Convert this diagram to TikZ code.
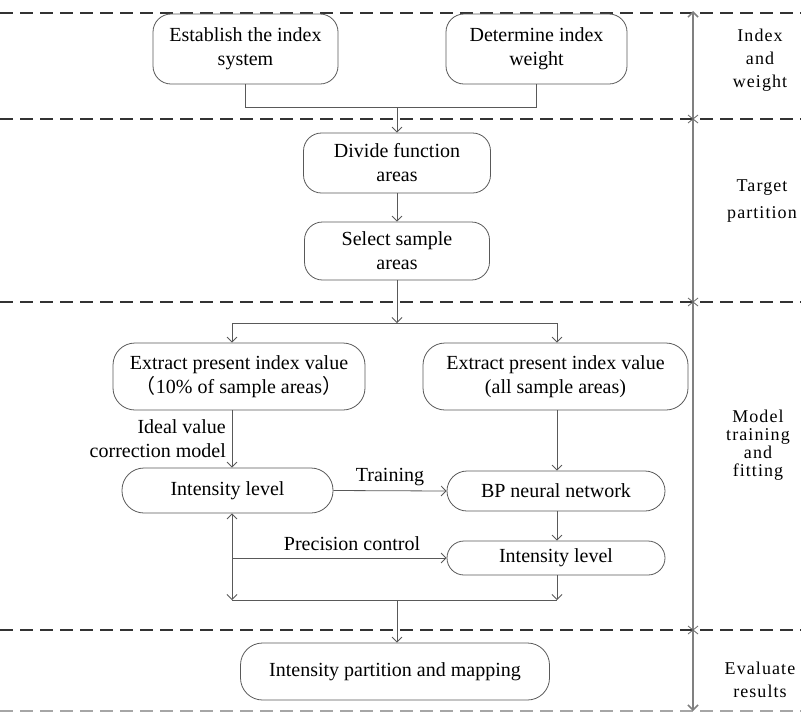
\documentclass[tikz,border=0pt]{standalone}
\usepackage{fontspec}
\setmainfont{Liberation Serif}
\newfontfamily\cjk{Noto Sans CJK SC}
\newfontfamily\spaced[LetterSpace=6]{Liberation Serif}
\usetikzlibrary{arrows.meta}
\begin{document}
\begin{tikzpicture}[x=1pt,y=-1pt,
 box/.style={draw=black!65, line width=0.8pt, rounded corners=18pt, align=center, inner sep=0pt, font=\fontsize{20}{24}\selectfont},
 conn/.style={draw=black!65, line width=0.8pt},
 arr/.style={conn, -{Straight Barb[length=5pt,width=10pt]}},
 dbl/.style={conn, {Straight Barb[length=5pt,width=10pt]}-{Straight Barb[length=5pt,width=10pt]}},
 sep/.style={draw=black!80, line width=1.3pt, dash pattern=on 13pt off 7pt},
 lab/.style={font=\fontsize{20}{24}\selectfont, inner sep=0pt},
 side/.style={font=\spaced\fontsize{18}{23}\selectfont, align=center, inner sep=0pt}]
\useasboundingbox (0,0) rectangle (801,713);
% separators
\draw[sep] (0,13) -- (801,13);
\draw[sep] (0,119) -- (801,119);
\draw[sep] (0,302) -- (801,302);
\draw[sep] (0,630) -- (801,630);
\draw[sep, draw=black!35] (0,711) -- (801,711);
% axis
\coordinate (at) at (693,11);
\coordinate (ab) at (693,711);
\draw[draw=black!50, line width=1.5pt, {Straight Barb[length=5pt,width=10pt]}-{Straight Barb[length=5pt,width=10pt]}] (at) -- (ab);
\foreach \yy in {119,302,630} \draw[black!60, line width=0.8pt] (688,\yy-4) -- (698,\yy+4) (688,\yy+4) -- (698,\yy-4);
% side labels
\node[side] (l1) at (760,60) {Index\\and\\weight};
\node[side] (l2) at (762,201) {Target\\[4pt]partition};
\node[side, font=\spaced\fontsize{18}{18}\selectfont] (l3) at (758,445) {Model\\training\\and\\fitting};
\node[side] (l4) at (760,680) {Evaluate\\results};
% boxes
\node[box, minimum width=185pt, minimum height=70pt] (b1) at (245.5,49) {Establish the index\\system};
\node[box, minimum width=181pt, minimum height=70pt] (b2) at (536.5,49) {Determine index\\weight};
\node[box, minimum width=187pt, minimum height=60pt] (b3) at (397,163) {Divide function\\areas};
\node[box, minimum width=185pt, minimum height=58pt] (b4) at (397,251) {Select sample\\areas};
\node[box, minimum width=252pt, minimum height=67pt, rounded corners=22pt] (b5) at (239,376.5) {Extract present index value\\{\cjk （}10\% of sample areas{\cjk ）}};
\node[box, minimum width=265pt, minimum height=67pt, rounded corners=22pt] (b6) at (555.5,376.5) {Extract present index value\\(all sample areas)};
\node[box, minimum width=211pt, minimum height=45pt, rounded corners=22pt] (b7) at (227.5,490.5) {Intensity level};
\node[box, minimum width=218pt, minimum height=40pt, rounded corners=20pt] (b8) at (556,491) {BP neural network};
\node[box, minimum width=218pt, minimum height=34pt, rounded corners=17pt] (b9) at (556,558) {Intensity level};
\node[box, minimum width=309pt, minimum height=57pt, rounded corners=22pt] (b10) at (395,671.5) {Intensity partition and mapping};
% connectors
\coordinate (m1) at (397,107);
\draw[conn] (b1.south) -- (b1.south |- m1) -- (b2.south |- m1) -- (b2.south);
\draw[arr] (m1) -- (b3.north);
\draw[arr] (b3.south) -- (b4.north);
\coordinate (s) at (397,323);
\coordinate (sl) at (232,323);
\coordinate (sr) at (557,323);
\draw[arr] (b4.south) -- (s);
\draw[conn] (sl) -- (sr);
\draw[arr] (sl) -- (sl |- b5.north);
\draw[arr] (sr) -- (sr |- b6.north);
\draw[arr] (sl |- b5.south) -- (sl |- b7.north);
\node[lab, align=right, anchor=east] (ideal) at (226,439) {Ideal value\\correction model};
\draw[arr] (sr |- b6.south) -- (sr |- b8.north);
\draw[arr] (b7.east) -- (b8.west);
\node[lab] (train) at (390,477) {Training};
\draw[arr] (sr |- b8.south) -- (sr |- b9.north);
\coordinate (pc) at (232,558);
\draw[arr] (pc) -- (b9.west);
\node[lab] (prec) at (352,544) {Precision control};
\coordinate (ml) at (232,600);
\coordinate (mr) at (557,600);
\coordinate (mm) at (397,600);
\draw[dbl] (sl |- b7.south) -- (ml);
\draw[conn] (ml) -- (mr);
\draw[arr] (sr |- b9.south) -- (mr);
\draw[arr] (mm) -- (mm |- b10.north);
\end{tikzpicture}
\end{document}
